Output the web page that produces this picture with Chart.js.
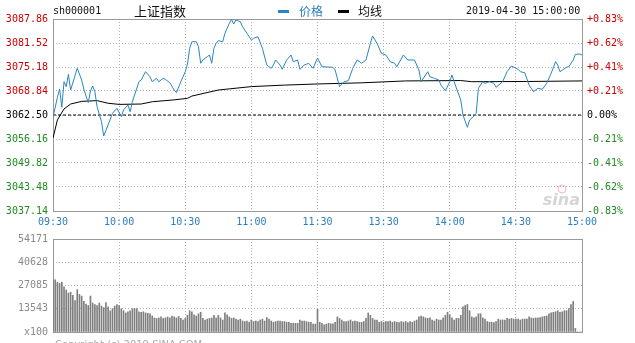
<!DOCTYPE html>
<html>
<head>
<meta charset="utf-8">
<script src="https://cdn.jsdelivr.net/npm/chart.js@4/dist/chart.umd.min.js"></script>
<style>
body { margin: 0; background: #fff; width: 635px; height: 343px; overflow: hidden; position: relative; }
canvas { position: absolute; left: 0; }
#price { top: 0; }
#vol { top: 228px; }
.t { position: absolute; white-space: nowrap; line-height: 14px; }
.mono { font: 10px "DejaVu Sans Mono", monospace; color: #111; }
.cjk { font-family: "Noto Sans CJK SC", sans-serif; }
.dash { position: absolute; height: 3px; width: 11px; }
</style>
</head>
<body>
<canvas id="price" width="635" height="230"></canvas>
<canvas id="vol" width="635" height="115"></canvas>

<div class="t mono" style="left:53px;top:5px">sh000001</div>
<div class="t cjk" style="left:134px;top:4px;font-size:13px;color:#111">上证指数</div>
<div class="dash" style="left:278px;top:10px;background:#2a86be"></div>
<div class="t cjk" style="left:299px;top:4px;font-size:12px;color:#2a7fc0">价格</div>
<div class="dash" style="left:338px;top:10px;background:#000"></div>
<div class="t cjk" style="left:358px;top:4px;font-size:12px;color:#111">均线</div>
<div class="t mono" style="left:466px;top:5px">2019-04-30 15:00:00</div>
<div class="t" style="left:55px;top:339px;font:10px 'DejaVu Sans',sans-serif;color:#aaa">Copyright (c) 2019 SINA.COM</div>

<script>
// minutes since 09:30 (lunch break removed), 0..240
const timeTicks = [0, 30, 60, 90, 120, 150, 180, 210, 240];
const timeLabels = ['09:30', '10:00', '10:30', '11:00', '11:30', '13:30', '14:00', '14:30', '15:00'];

const prevClose = 3062.50;
const priceTicks = [3037.14, 3043.48, 3049.82, 3056.16, 3062.50, 3068.84, 3075.18, 3081.52, 3087.86];
const pctLabels = ['-0.83%', '-0.62%', '-0.41%', '-0.21%', '0.00%', '+0.21%', '+0.41%', '+0.62%', '+0.83%'];

const priceTimes = [
    0, 2, 3, 4, 5, 6, 7, 8, 11, 13,
    14, 16, 17, 18, 19, 20, 22, 23, 25, 27,
    29, 31, 32, 34, 35, 36, 37, 39, 40, 42,
    44, 45, 47, 48, 50, 51, 53, 55, 56, 58,
    60, 61, 62, 63, 65, 66, 67, 68, 70, 71,
    72, 73, 74, 75, 77, 78, 80, 81, 82, 83,
    85, 86, 88, 90, 91, 93, 95, 97, 99, 100,
    101, 103, 104, 106, 108, 109, 111, 112, 114, 116,
    118, 120, 122, 127, 128, 130, 132, 134, 136, 138,
    140, 142, 144, 145, 147, 149, 151, 153, 155, 156,
    159, 161, 164, 166, 167, 170, 171, 173, 175, 176,
    178, 180, 181, 182, 183, 185, 186, 188, 189, 191,
    192, 193, 195, 196, 198, 200, 201, 204, 206, 208,
    211, 212, 214, 216, 218, 220, 222, 224, 226, 228,
    229, 230, 233, 234, 236, 237, 239, 240
];
const priceValues = [
    3061.89, 3067.18, 3069.37, 3064.53, 3071.30, 3069.98, 3073.25, 3069.10, 3074.84, 3071.75,
    3069.29, 3065.75, 3068.84, 3070.16, 3068.65, 3064.69, 3060.73, 3056.95, 3059.86, 3062.95,
    3064.27, 3062.05, 3063.82, 3065.14, 3063.37, 3066.01, 3067.78, 3071.30, 3071.75, 3073.94,
    3072.62, 3071.30, 3072.19, 3071.30, 3072.19, 3071.93, 3071.03, 3069.10, 3068.39, 3071.30,
    3073.94, 3075.97, 3080.12, 3081.86, 3081.86, 3080.54, 3076.16, 3077.03, 3077.90, 3078.35,
    3076.16, 3080.12, 3081.44, 3082.13, 3081.86, 3084.08, 3086.72, 3087.78, 3086.54, 3087.60,
    3087.15, 3085.83, 3084.08, 3082.31, 3082.76, 3083.18, 3080.12, 3075.71, 3074.84, 3075.71,
    3077.03, 3075.71, 3074.57, 3077.03, 3078.35, 3076.58, 3077.03, 3074.57, 3075.71, 3076.16,
    3074.84, 3077.56, 3075.26, 3075.10, 3074.39, 3069.98, 3071.30, 3071.56, 3074.84, 3077.03,
    3076.16, 3077.03, 3081.44, 3083.37, 3081.44, 3078.80, 3078.35, 3076.58, 3076.16, 3075.26,
    3078.35, 3077.03, 3077.03, 3074.39, 3071.30, 3073.94, 3072.62, 3072.19, 3071.75, 3070.42,
    3068.92, 3071.30, 3073.07, 3071.30, 3069.63, 3066.46, 3062.50, 3059.25, 3061.18, 3062.24,
    3062.95, 3069.55, 3071.30, 3070.87, 3071.30, 3070.87, 3069.82, 3071.30, 3073.94, 3075.44,
    3074.57, 3073.94, 3073.67, 3070.42, 3068.65, 3069.55, 3069.29, 3070.87, 3073.52, 3076.58,
    3075.71, 3073.94, 3075.10, 3075.26, 3077.03, 3078.53, 3078.61, 3078.35
];

const avgTimes = [0, 2, 5, 8, 13, 20, 25, 30, 40, 45, 55, 61, 63, 75, 90, 105, 120, 140, 160, 185, 190, 215, 240];
const avgValues = [3056.4, 3061.2, 3064.1, 3065.4, 3066.1, 3066.3, 3065.6, 3065.3, 3065.4, 3066.0, 3066.5,
    3066.9, 3067.5, 3069.1, 3070.0, 3070.4, 3070.7, 3071.0, 3071.5, 3071.6, 3071.3, 3071.35, 3071.5];

// volume per minute (x100 shares), one value per minute 0..240
const volumes = [
    31000, 30400, 29000, 28300, 29000, 26300, 24500, 22700, 23200, 21400,
    18300, 24700, 21900, 20900, 17800, 16300, 15400, 20900, 16900, 16000,
    15400, 16900, 15100, 14200, 17200, 14700, 12400, 13600, 15100, 16000,
    15400, 13600, 12400, 11100, 11800, 12400, 13600, 13600, 13600, 11800,
    11500, 11800, 11100, 10900, 10600, 9300, 8200, 7900, 8200, 8800,
    7900, 8200, 8800, 8200, 9300, 8800, 8200, 9100, 7900, 7000,
    7900, 9700, 12400, 11800, 10000, 9300, 10600, 11500, 7900, 7000,
    7500, 7900, 8200, 9700, 8200, 9700, 8200, 7000, 11100, 10000,
    8800, 7900, 8200, 7500, 7000, 7500, 6400, 6100, 6400, 5700,
    7000, 6100, 6400, 6100, 7000, 7500, 6400, 8400, 7500, 6400,
    5700, 6100, 6400, 6400, 6100, 6100, 5700, 5700, 5100, 5100,
    5100, 5100, 7000, 6400, 6400, 6100, 5700, 5700, 4600, 4600,
    13300,
    5700, 5100, 4200, 4600, 5100, 4800, 4800, 5700, 8800, 7900,
    7000, 6100, 6100, 6400, 7000, 6100, 6400, 6100, 5700, 5700,
    6100, 7900, 11100, 9700, 7900, 7000, 7000, 5700, 6100, 5700,
    6100, 6100, 6400, 5700, 6100, 5700, 5500, 6100, 5700, 6100,
    5500, 6100, 5700, 6400, 7000, 8800, 9300, 8800, 8200, 7900,
    8200, 7000, 6400, 7500, 7000, 7000, 8200, 9700, 11500, 10000,
    8200, 7000, 7900, 7900, 9700, 14700, 15400, 16000, 12400, 8800,
    8200, 8800, 10600, 10600, 8200, 7500, 6100, 5700, 5700, 5500,
    6100, 7500, 7000, 7000, 7000, 7900, 7500, 7900, 7500, 7500,
    7500, 7000, 7500, 7500, 7500, 8800, 8200, 7900, 8200, 8200,
    8400, 8800, 9100, 9300, 10600, 11100, 11500, 11800, 12400, 11500,
    11800, 12400, 12400, 13600, 16000, 17800, 2100, 0, 0, 0
];
const volTicks = [0, 13543, 27085, 40628, 54171];
const volLabels = ['x100', '13543', '27085', '40628', '54171'];

const RED = '#cc0000';
const GREEN = '#1f8a1f';
const BLUE = '#2a86be';
const GRID = '#b0b0b0';
const FRAME = '#999999';
const monoFont = { family: 'DejaVu Sans Mono', size: 10 };

function tickColor(ctx) {
    const v = ctx.tick.value;
    if (v > prevClose + 0.001) return RED;
    if (v < prevClose - 0.001) return GREEN;
    return '#000';
}

const framePlugin = {
    id: 'frame',
    beforeDatasetsDraw(chart) {
        const a = chart.chartArea;
        const ctx = chart.ctx;
        ctx.save();
        ctx.strokeStyle = FRAME;
        ctx.lineWidth = 1;
        ctx.strokeRect(Math.round(a.left) + 0.5, Math.round(a.top) + 0.5,
            Math.round(a.right - a.left), Math.round(a.bottom - a.top));
        ctx.restore();
    }
};

const sinaMark = {
    id: 'sinaMark',
    afterDraw(chart) {
        const a = chart.chartArea;
        const ctx = chart.ctx;
        ctx.save();
        ctx.strokeStyle = 'rgba(230,120,120,0.5)';
        ctx.beginPath();
        ctx.arc(a.right - 20, a.bottom - 22, 4, 0, Math.PI * 2);
        ctx.stroke();
        ctx.font = 'italic bold 16px "DejaVu Sans", sans-serif';
        ctx.fillStyle = 'rgba(150,150,150,0.4)';
        ctx.textAlign = 'right';
        ctx.fillText('sina', a.right - 2, a.bottom - 6);
        ctx.restore();
    }
};

function yAxis(position, labels) {
    return {
        position: position,
        min: priceTicks[0],
        max: priceTicks[priceTicks.length - 1],
        afterBuildTicks: s => { s.ticks = priceTicks.map(v => ({ value: v })); },
        afterFit: s => { s.width = 53; },
        ticks: {
            font: monoFont,
            color: tickColor,
            padding: 5,
            callback: (v, i) => labels[i]
        },
        grid: { display: position === 'left', color: GRID, drawTicks: false },
        border: { display: false, dash: [1, 2] }
    };
}

new Chart(document.getElementById('price'), {
    type: 'line',
    data: {
        datasets: [{
            data: priceTimes.map((t, i) => ({ x: t, y: priceValues[i] })),
            borderColor: BLUE,
            borderWidth: 1,
            pointRadius: 0,
            tension: 0
        }, {
            data: avgTimes.map((t, i) => ({ x: t, y: avgValues[i] })),
            borderColor: '#000',
            borderWidth: 1,
            pointRadius: 0,
            tension: 0
        }, {
            data: [{ x: timeTicks[0], y: prevClose }, { x: timeTicks[timeTicks.length - 1], y: prevClose }],
            borderColor: '#000',
            borderWidth: 1,
            borderDash: [3, 2],
            pointRadius: 0
        }]
    },
    options: {
        responsive: false,
        animation: false,
        layout: { padding: { top: 19, left: 0, right: 0, bottom: 0 } },
        plugins: { legend: { display: false }, tooltip: { enabled: false } },
        scales: {
            x: {
                type: 'linear',
                min: 0,
                max: 240,
                afterBuildTicks: s => { s.ticks = timeTicks.map(v => ({ value: v })); },
                afterFit: s => { s.height = 19; },
                ticks: {
                    font: monoFont,
                    color: '#2a7fc0',
                    padding: 5,
                    maxRotation: 0,
                    autoSkip: false,
                    callback: (v, i) => timeLabels[i]
                },
                grid: { color: GRID, drawTicks: false },
                border: { display: false, dash: [1, 2] }
            },
            y: yAxis('left', priceTicks.map(v => v.toFixed(2))),
            yPct: yAxis('right', pctLabels)
        }
    },
    plugins: [framePlugin, sinaMark]
});

new Chart(document.getElementById('vol'), {
    type: 'bar',
    data: {
        datasets: [{
            data: volumes.map((v, i) => ({ x: i, y: v })),
            backgroundColor: '#7f7f7f',
            barThickness: 1,
            borderWidth: 0
        }]
    },
    options: {
        responsive: false,
        animation: false,
        layout: { padding: { top: 11, left: 0, right: 53, bottom: 0 } },
        plugins: { legend: { display: false }, tooltip: { enabled: false } },
        scales: {
            x: {
                type: 'linear',
                min: 0,
                max: 240,
                offset: false,
                afterBuildTicks: s => { s.ticks = timeTicks.map(v => ({ value: v })); },
                afterFit: s => { s.height = 4; },
                ticks: { display: false },
                grid: { color: GRID, drawTicks: false, offset: false },
                border: { display: false, dash: [1, 2] }
            },
            y: {
                min: 0,
                max: volTicks[volTicks.length - 1],
                afterBuildTicks: s => { s.ticks = volTicks.map(v => ({ value: v })); },
                afterFit: s => { s.width = 53; },
                ticks: {
                    font: monoFont,
                    color: '#8a8a8a',
                    padding: 5,
                    callback: (v, i) => volLabels[i]
                },
                grid: { color: GRID, drawTicks: false },
                border: { display: false, dash: [1, 2] }
            }
        }
    },
    plugins: [framePlugin]
});
</script>
</body>
</html>
